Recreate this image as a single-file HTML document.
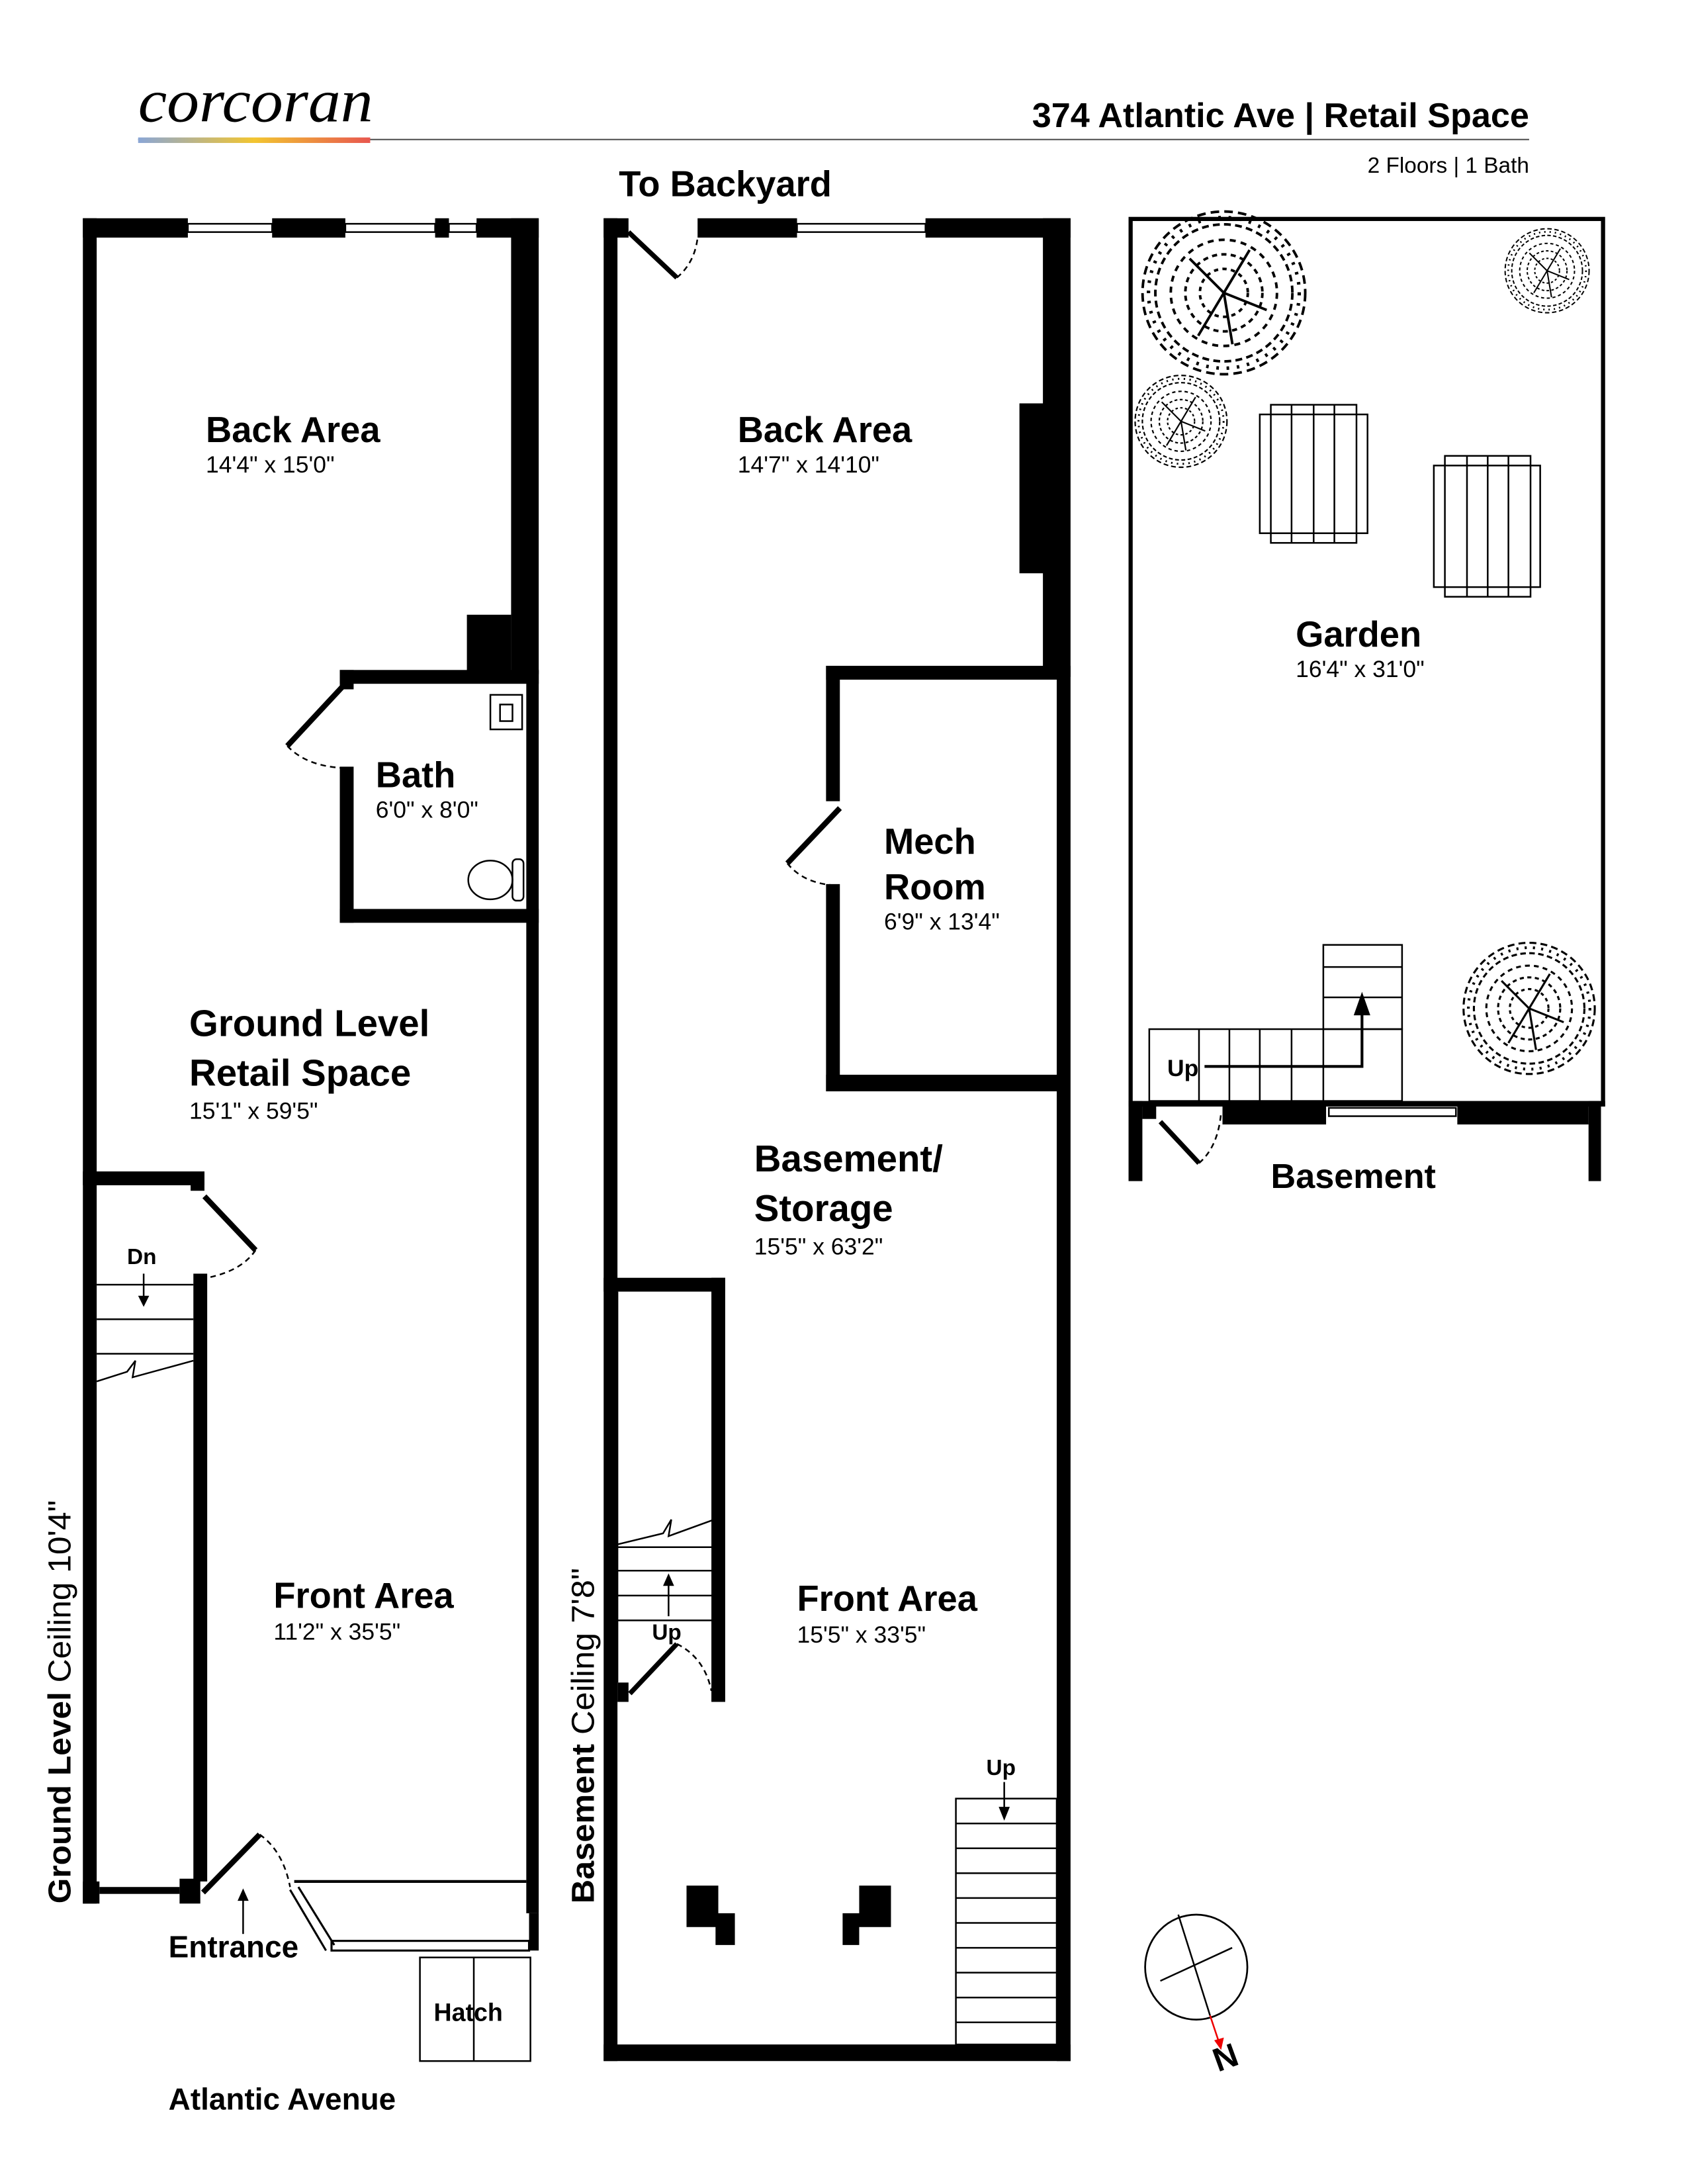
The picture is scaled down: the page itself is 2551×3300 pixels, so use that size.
<!DOCTYPE html>
<html><head><meta charset="utf-8"><style>
html,body{margin:0;padding:0;background:#fff;}
svg{display:block;}
.b{font-family:"Liberation Sans",sans-serif;font-weight:bold;fill:#000;}
.r{font-family:"Liberation Sans",sans-serif;fill:#000;}
</style></head><body>
<svg width="2551" height="3300" viewBox="0 0 1222 1581" preserveAspectRatio="none" xmlns="http://www.w3.org/2000/svg">
<defs>
<linearGradient id="g" x1="0" x2="1"><stop offset="0" stop-color="#8aa6d6"/><stop offset="0.5" stop-color="#f2c530"/><stop offset="1" stop-color="#e8574f"/></linearGradient>
<g id="tree" fill="none" stroke="#000">
<circle r="0.95" stroke-dasharray="0.1 0.06" stroke-width="0.03"/>
<circle r="0.8" stroke-dasharray="0.08 0.05" stroke-width="0.03"/>
<circle r="0.62" stroke-dasharray="0.07 0.06" stroke-width="0.03"/>
<circle r="0.45" stroke-dasharray="0.06 0.05" stroke-width="0.03"/>
<circle r="0.28" stroke-dasharray="0.05 0.05" stroke-width="0.03"/>
<path d="M0 0 L-0.4 -0.4 M0 0 L0.3 -0.5 M0 0 L0.5 0.2 M0 0 L-0.3 0.5 M0 0 L0.1 0.6" stroke-width="0.03"/>
<circle r="0.88" stroke-dasharray="0.03 0.09" stroke-width="0.04"/>
</g>
</defs>
<rect width="1222" height="1581" fill="#fff"/>
<!-- header -->
<text x="100" y="88" font-family="Liberation Serif,serif" font-style="italic" font-size="44" textLength="170" lengthAdjust="spacingAndGlyphs">corcoran</text>
<line x1="100" y1="101" x2="1107" y2="101" stroke="#555" stroke-width="1"/>
<rect x="100" y="99.5" width="168" height="4" fill="url(#g)"/>
<text class="b" x="1107" y="92" font-size="25" text-anchor="end">374 Atlantic Ave | Retail Space</text>
<text class="r" x="1107" y="125" font-size="16" text-anchor="end">2 Floors | 1 Bath</text>
<text class="b" x="448" y="142" font-size="26">To Backyard</text>

<!-- GROUND LEVEL -->
<g fill="#000">
<rect x="60" y="158" width="76" height="14"/>
<rect x="197" y="158" width="53" height="14"/>
<rect x="315" y="158" width="10" height="14"/>
<rect x="345" y="158" width="45" height="14"/>
<rect x="60" y="158" width="10" height="1220"/>
<rect x="370" y="158" width="20" height="330"/>
<rect x="338" y="445" width="32" height="43"/>
<rect x="246" y="485" width="144" height="10"/>
<rect x="246" y="485" width="10" height="14"/>
<rect x="246" y="555" width="10" height="113"/>
<rect x="246" y="658" width="144" height="10"/>
<rect x="381" y="485" width="9" height="900"/>
<rect x="60" y="848" width="88" height="10"/>
<rect x="138" y="848" width="10" height="14"/>
<rect x="140" y="922" width="10" height="440"/>
<rect x="60" y="1362" width="12" height="16"/>
<rect x="130" y="1360" width="15" height="18"/>
<rect x="72" y="1366" width="58" height="5"/>
<rect x="383" y="1385" width="7" height="27"/>
</g>
<g fill="none" stroke="#000" stroke-width="1.2">
<rect x="136" y="162" width="61" height="6"/><rect x="250" y="162" width="65" height="6"/><rect x="325" y="162" width="20" height="6"/>
<rect x="355" y="503" width="23" height="25"/><rect x="362" y="510" width="9" height="12"/>
<ellipse cx="355" cy="637" rx="16" ry="14"/><rect x="371" y="622" width="8" height="30" rx="3"/>
<line x1="70" y1="930" x2="140" y2="930"/><line x1="70" y1="955" x2="140" y2="955"/><line x1="70" y1="980" x2="140" y2="980"/>
<path d="M70 1000 L92 993 L98 985 L96 997 L140 985"/>
<line x1="213" y1="1362" x2="381" y2="1362" stroke-width="2"/>
<path d="M210 1368 L236 1412 M216 1366 L242 1408" stroke-width="1.5"/>
<rect x="240" y="1405" width="143" height="7" stroke-width="1.5"/>
<rect x="304" y="1417" width="80" height="75"/><line x1="343" y1="1417" x2="343" y2="1492"/>
</g>
<g stroke="#000" fill="none">
<line x1="248" y1="497" x2="208" y2="540" stroke-width="4"/>
<path d="M208 540 Q222 555 250 556" stroke-dasharray="4 3" stroke-width="1.2"/>
<line x1="148" y1="866" x2="185" y2="905" stroke-width="4"/>
<path d="M185 905 Q175 920 150 925" stroke-dasharray="4 3" stroke-width="1.2"/>
<line x1="147" y1="1370" x2="188" y2="1328" stroke-width="4"/>
<path d="M188 1328 Q205 1340 210 1366" stroke-dasharray="4 3" stroke-width="1.2"/>
<line x1="104" y1="922" x2="104" y2="940" stroke-width="1.2"/>
<line x1="176" y1="1400" x2="176" y2="1374" stroke-width="1.2"/>
</g>
<path d="M100 938 L108 938 L104 946Z M172 1376 L180 1376 L176 1367Z" fill="#000"/>
<text class="b" x="92" y="915" font-size="16">Dn</text>
<text class="b" x="122" y="1417" font-size="22">Entrance</text>
<text class="b" x="314" y="1463" font-size="18">Hatch</text>
<text class="b" x="122" y="1527" font-size="22">Atlantic Avenue</text>
<text class="b" x="149" y="320" font-size="26">Back Area</text>
<text class="r" x="149" y="342" font-size="17">14'4" x 15'0"</text>
<text class="b" x="272" y="570" font-size="26">Bath</text>
<text class="r" x="272" y="592" font-size="17">6'0" x 8'0"</text>
<text class="b" x="137" y="750" font-size="27">Ground Level</text>
<text class="b" x="137" y="786" font-size="27">Retail Space</text>
<text class="r" x="137" y="810" font-size="17">15'1" x 59'5"</text>
<text class="b" x="198" y="1164" font-size="26">Front Area</text>
<text class="r" x="198" y="1187" font-size="17">11'2" x 35'5"</text>
<text transform="translate(51,1378) rotate(-90)" font-size="23" class="r" textLength="292" lengthAdjust="spacingAndGlyphs"><tspan font-weight="bold">Ground Level</tspan> Ceiling 10'4"</text>

<!-- BASEMENT -->
<g fill="#000">
<rect x="437" y="158" width="10" height="1334"/>
<rect x="437" y="158" width="18" height="14"/>
<rect x="505" y="158" width="72" height="14"/>
<rect x="670" y="158" width="105" height="14"/>
<rect x="755" y="158" width="20" height="332"/>
<rect x="738" y="292" width="20" height="123"/>
<rect x="765" y="482" width="10" height="1010"/>
<rect x="598" y="482" width="170" height="10"/>
<rect x="598" y="482" width="10" height="98"/>
<rect x="598" y="640" width="10" height="150"/>
<rect x="598" y="778" width="170" height="12"/>
<rect x="437" y="925" width="88" height="10"/>
<rect x="515" y="925" width="10" height="307"/>
<rect x="447" y="1218" width="8" height="14"/>
<rect x="437" y="1480" width="338" height="12"/>
<path d="M497 1365 H520 V1385 H532 V1408 H518 V1395 H497Z"/>
<path d="M622 1365 H645 V1395 H622 V1408 H610 V1385 H622Z"/>
</g>
<g fill="none" stroke="#000" stroke-width="1.2">
<rect x="577" y="162" width="93" height="6"/>
<line x1="447" y1="935" x2="447" y2="1218"/>
<path d="M447 1118 L480 1110 L486 1100 L484 1112 L517 1100"/>
<line x1="447" y1="1120" x2="517" y2="1120"/><line x1="447" y1="1137" x2="517" y2="1137"/><line x1="447" y1="1155" x2="517" y2="1155"/><line x1="447" y1="1173" x2="517" y2="1173"/>
<line x1="484" y1="1170" x2="484" y2="1146"/>
<rect x="692" y="1302" width="73" height="178"/>
<line x1="692" y1="1320" x2="765" y2="1320"/><line x1="692" y1="1338" x2="765" y2="1338"/><line x1="692" y1="1356" x2="765" y2="1356"/><line x1="692" y1="1374" x2="765" y2="1374"/><line x1="692" y1="1392" x2="765" y2="1392"/><line x1="692" y1="1410" x2="765" y2="1410"/><line x1="692" y1="1428" x2="765" y2="1428"/><line x1="692" y1="1446" x2="765" y2="1446"/><line x1="692" y1="1464" x2="765" y2="1464"/>
<line x1="727" y1="1290" x2="727" y2="1310"/>
</g>
<path d="M480 1148 L488 1148 L484 1139Z M723 1308 L731 1308 L727 1318Z" fill="#000"/>
<g stroke="#000" fill="none">
<line x1="455" y1="168" x2="490" y2="201" stroke-width="3.5"/>
<path d="M490 201 Q503 190 505 172" stroke-dasharray="4 3" stroke-width="1.2"/>
<line x1="608" y1="585" x2="570" y2="625" stroke-width="4"/>
<path d="M570 625 Q582 640 606 641" stroke-dasharray="4 3" stroke-width="1.2"/>
<line x1="456" y1="1226" x2="490" y2="1190" stroke-width="3.5"/>
<path d="M490 1190 Q510 1200 515 1224" stroke-dasharray="4 3" stroke-width="1.2"/>
</g>
<text class="b" x="472" y="1187" font-size="16">Up</text>
<text class="b" x="714" y="1285" font-size="16">Up</text>
<text class="b" x="534" y="320" font-size="26">Back Area</text>
<text class="r" x="534" y="342" font-size="17">14'7" x 14'10"</text>
<text class="b" x="640" y="618" font-size="26">Mech</text>
<text class="b" x="640" y="651" font-size="26">Room</text>
<text class="r" x="640" y="673" font-size="17">6'9" x 13'4"</text>
<text class="b" x="546" y="848" font-size="27">Basement/</text>
<text class="b" x="546" y="884" font-size="27">Storage</text>
<text class="r" x="546" y="908" font-size="17">15'5" x 63'2"</text>
<text class="b" x="577" y="1166" font-size="26">Front Area</text>
<text class="r" x="577" y="1189" font-size="17">15'5" x 33'5"</text>
<text transform="translate(430,1378) rotate(-90)" font-size="23" class="r" textLength="243" lengthAdjust="spacingAndGlyphs"><tspan font-weight="bold">Basement</tspan> Ceiling 7'8"</text>

<!-- GARDEN -->
<rect x="818.5" y="158.5" width="342" height="641" fill="none" stroke="#000" stroke-width="3"/>
<g fill="#000">
<rect x="817" y="797" width="345" height="4"/>
<rect x="817" y="797" width="10" height="58"/>
<rect x="1150" y="797" width="9" height="58"/>
<rect x="827" y="800" width="10" height="10"/>
<rect x="885" y="800" width="75" height="14"/>
<rect x="1055" y="800" width="95" height="14"/>
</g>
<rect x="962" y="802" width="92" height="6" fill="none" stroke="#000" stroke-width="1.2"/>
<line x1="840" y1="812" x2="868" y2="842" stroke="#000" stroke-width="3.5"/>
<path d="M868 842 Q882 830 884 805" fill="none" stroke="#000" stroke-dasharray="4 3" stroke-width="1.2"/>
<use href="#tree" transform="translate(886,212) scale(62)"/>
<use href="#tree" transform="translate(1120,196) scale(32)"/>
<use href="#tree" transform="translate(855,305) scale(35)"/>
<use href="#tree" transform="translate(1107,730) scale(50)"/>
<g fill="none" stroke="#000" stroke-width="1.2">
<rect x="912" y="300" width="78" height="86"/><rect x="920" y="293" width="62" height="100"/>
<line x1="935" y1="293" x2="935" y2="393"/><line x1="951" y1="293" x2="951" y2="393"/><line x1="966" y1="293" x2="966" y2="393"/>
<rect x="1038" y="337" width="77" height="88"/><rect x="1046" y="330" width="62" height="102"/>
<line x1="1062" y1="330" x2="1062" y2="432"/><line x1="1077" y1="330" x2="1077" y2="432"/><line x1="1092" y1="330" x2="1092" y2="432"/>
<rect x="832" y="745" width="183" height="52"/>
<rect x="958" y="684" width="57" height="61"/>
<line x1="958" y1="700" x2="1015" y2="700"/><line x1="958" y1="722" x2="1015" y2="722"/>
<line x1="958" y1="745" x2="958" y2="797"/>
<line x1="868" y1="745" x2="868" y2="797"/><line x1="890" y1="745" x2="890" y2="797"/><line x1="912" y1="745" x2="912" y2="797"/><line x1="935" y1="745" x2="935" y2="797"/>
</g>
<path d="M872 772 H986 V733" fill="none" stroke="#000" stroke-width="2"/>
<path d="M980 735 L992 735 L986 718Z" fill="#000"/>
<text class="b" x="845" y="779" font-size="17">Up</text>
<text class="b" x="938" y="468" font-size="26">Garden</text>
<text class="r" x="938" y="490" font-size="17">16'4" x 31'0"</text>
<text class="b" x="920" y="860" font-size="25">Basement</text>

<!-- compass -->
<ellipse cx="866" cy="1424" rx="37" ry="38" fill="none" stroke="#000" stroke-width="1.3"/>
<line x1="853" y1="1386" x2="876" y2="1459" stroke="#000" stroke-width="1.2"/>
<line x1="876" y1="1459" x2="883" y2="1480" stroke="#e00" stroke-width="1.2"/>
<path d="M879 1477 L886 1475 L884 1484Z" fill="#e00"/>
<line x1="840" y1="1434" x2="892" y2="1410" stroke="#000" stroke-width="1.2"/>
<text class="b" x="877" y="1497" font-size="24" transform="rotate(-20 888 1485)">N</text>
</svg>
</body></html>
